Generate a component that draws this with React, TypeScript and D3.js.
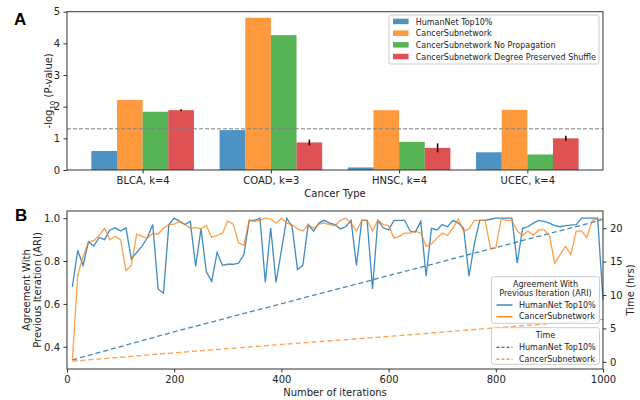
import * as d3 from "d3"
import { useEffect, useRef } from "react"

// Panel A: enrichment of each network per cancer type
const cancerTypes = ["BLCA, k=4", "COAD, k=3", "HNSC, k=4", "UCEC, k=4"]
const barSeries = [
  "HumanNet Top10%",
  "CancerSubnetwork",
  "CancerSubnetwork No Propagation",
  "CancerSubnetwork Degree Preserved Shuffle"
]
const humanNetBars = [0.6, 1.26, 0.08, 0.56]
const subnetworkBars = [2.21, 4.81, 1.89, 1.9]
const noPropagationBars = [1.84, 4.26, 0.89, 0.49]
const shuffleBars = [1.89, 0.87, 0.7, 1.0]
const shuffleErr = [0.03, 0.09, 0.14, 0.08]
const significance = 1.301

// Panel B: ARI between consecutive iterations, and run time
const iterations = d3.range(10, 1001, 10)
const humanNetAri = [
  0.68, 0.85, 0.78, 0.89, 0.87, 0.91, 0.9, 0.945, 0.955, 0.94,
  0.955, 0.81, 0.84, 0.87, 0.91, 0.97, 0.67, 0.65, 0.97, 1.0,
  0.985, 0.97, 0.985, 0.775, 0.95, 0.75, 0.705, 0.84, 0.78, 0.785,
  0.785, 0.79, 0.83, 0.99, 0.99, 1.0, 0.7, 0.955, 0.7, 0.85,
  1.0, 0.96, 0.76, 0.78, 0.97, 0.94, 0.977, 0.99, 0.977, 0.97,
  0.95, 0.96, 0.99, 0.78, 0.99, 0.99, 0.67, 0.99, 0.955, 0.945,
  0.99, 0.99, 0.99, 0.94, 0.935, 0.985, 0.73, 0.953, 0.945, 0.97,
  0.96, 0.99, 0.977, 0.953, 0.73, 0.88, 0.99, 0.99, 0.995, 1.0,
  1.0, 1.0, 1.0, 0.79, 0.953, 0.96, 0.977, 0.99, 0.985, 0.977,
  0.965, 0.96, 0.965, 0.968, 0.97, 1.0, 1.0, 1.0, 1.0, 0.62
]
const subnetworkAri = [
  0.337, 0.735, 0.82, 0.89, 0.895, 0.92, 0.953, 0.9, 0.915, 0.9,
  0.755, 0.78, 0.925, 0.915, 0.907, 0.93, 0.925, 0.953, 0.97, 0.972,
  0.985, 0.972, 0.953, 0.956, 0.95, 0.966, 0.91, 0.92, 0.93, 0.987,
  0.972, 0.885, 0.873, 0.99, 0.985, 0.99, 1.0, 0.996, 0.977, 1.0,
  0.977, 0.97, 0.95, 0.94, 0.97, 0.953, 0.972, 0.977, 0.97, 0.965,
  0.99, 1.0, 0.977, 0.94, 0.99, 0.99, 0.94, 0.99, 0.97, 0.965,
  0.907, 0.915, 0.93, 0.93, 0.94, 0.93, 0.87, 0.88, 0.907, 0.93,
  0.92, 0.953, 0.997, 0.94, 0.95, 0.99, 0.99, 0.99, 0.86, 0.86,
  0.997, 0.99, 0.99, 0.94, 0.92, 0.94, 0.92, 0.945, 0.945, 0.92,
  0.79, 0.83, 0.868, 0.83, 0.94, 0.94, 0.91, 0.99, 0.996, 0.996
]
const timeIterations = [10, 200, 400, 600, 800, 1000]
const humanNetHours = [0.3, 4.5, 8.7, 12.9, 17.1, 21.3]
const subnetworkHours = [0.1, 1.35, 2.6, 3.8, 5.1, 6.35]

const FONT = "DejaVu Sans"
const blue = "#1f77b4"
const orange = "#ff7f0e"
const green = "#2ca02c"
const red = "#d62728"

const App = () => {
  const svgRef = useRef<SVGSVGElement | null>(null)

  useEffect(() => {
    if (!svgRef.current) return
    const svg = d3.select(svgRef.current)
    svg.selectAll("*").remove()
    svg.style("font-family", FONT)

    // ---------- Panel A ----------
    const a = { left: 67, right: 603, top: 11.7, bottom: 170 }
    const xA = d3.scaleLinear().domain([-0.59, 3.59]).range([a.left, a.right])
    const yA = d3.scaleLinear().domain([0, 5]).range([a.bottom, a.top])
    const barWidth = 0.2
    const seriesValues = [humanNetBars, subnetworkBars, noPropagationBars, shuffleBars]
    const seriesColors = [blue, orange, green, red]

    const gA = svg.append("g")

    seriesValues.forEach((vals, j) => {
      gA.selectAll(null)
        .data(vals)
        .enter()
        .append("rect")
        .attr("x", (_d, i) => xA(i + (j - 1.5) * barWidth - barWidth / 2))
        .attr("width", xA(barWidth) - xA(0))
        .attr("y", d => yA(d))
        .attr("height", d => yA(0) - yA(d))
        .attr("fill", seriesColors[j])
        .attr("fill-opacity", 0.8)
    })

    // error bars on the shuffle series
    gA.selectAll(null)
      .data(shuffleBars)
      .enter()
      .append("line")
      .attr("x1", (_d, i) => xA(i + 1.5 * barWidth))
      .attr("x2", (_d, i) => xA(i + 1.5 * barWidth))
      .attr("y1", (d, i) => yA(d - shuffleErr[i]))
      .attr("y2", (d, i) => yA(d + shuffleErr[i]))
      .attr("stroke", "#000")
      .attr("stroke-width", 1.5)

    gA.append("line")
      .attr("x1", a.left)
      .attr("x2", a.right)
      .attr("y1", yA(significance))
      .attr("y2", yA(significance))
      .attr("stroke", "#808080")
      .attr("stroke-width", 1)
      .attr("stroke-dasharray", "4,2")

    const axA = gA.append("g").attr("transform", `translate(${a.left},0)`)
      .call(d3.axisLeft(yA).ticks(5).tickFormat(d3.format("d")).tickSize(3.5).tickPadding(3.5))
    const axAx = gA.append("g").attr("transform", `translate(0,${a.bottom})`)
      .call(
        d3.axisBottom(xA)
          .tickValues([0, 1, 2, 3])
          .tickFormat(d => cancerTypes[d as number])
          .tickSize(3.5)
          .tickPadding(3.5)
      )
    ;[axA, axAx].forEach(ax => {
      ax.select(".domain").remove()
      ax.selectAll("text").style("font-size", "10px").style("font-family", FONT).attr("fill", "#222")
      ax.selectAll("line").attr("stroke", "#333")
    })

    gA.append("rect")
      .attr("x", a.left)
      .attr("y", a.top)
      .attr("width", a.right - a.left)
      .attr("height", a.bottom - a.top)
      .attr("fill", "none")
      .attr("stroke", "#333")
      .attr("stroke-width", 1)

    gA.append("text")
      .attr("x", (a.left + a.right) / 2)
      .attr("y", 197)
      .attr("text-anchor", "middle")
      .style("font-size", "10px")
      .attr("fill", "#222")
      .text("Cancer Type")

    const yLabA = gA.append("text")
      .attr("transform", `translate(52,${(a.top + a.bottom) / 2}) rotate(-90)`)
      .attr("text-anchor", "middle")
      .style("font-size", "10px")
      .attr("fill", "#222")
    yLabA.append("tspan").text("-log")
    yLabA.append("tspan").attr("dy", 2.5).style("font-size", "7px").text("10")
    yLabA.append("tspan").attr("dy", -2.5).text(" (P-value)")

    // legend A
    const legA = gA.append("g").attr("transform", "translate(389,15)")
    legA.append("rect")
      .attr("width", 210)
      .attr("height", 49)
      .attr("rx", 2)
      .attr("fill", "#fff")
      .attr("fill-opacity", 0.8)
      .attr("stroke", "#ccc")
    barSeries.forEach((name, j) => {
      const row = legA.append("g").attr("transform", `translate(0,${6.7 + j * 11.7})`)
      row.append("rect")
        .attr("x", 4)
        .attr("y", -3)
        .attr("width", 15.6)
        .attr("height", 5.5)
        .attr("fill", seriesColors[j])
        .attr("fill-opacity", 0.8)
      row.append("text")
        .attr("x", 26.7)
        .attr("y", 2.9)
        .style("font-size", "8px")
        .attr("fill", "#222")
        .text(name)
    })

    svg.append("text")
      .attr("x", 14)
      .attr("y", 25)
      .style("font-size", "17px")
      .style("font-weight", "bold")
      .style("font-family", "Liberation Sans")
      .text("A")

    // ---------- Panel B ----------
    const b = { left: 67, right: 603, top: 211, bottom: 369 }
    const xB = d3.scaleLinear().domain([0, 1000]).range([b.left, b.right])
    const yB = d3.scaleLinear().domain([0.2965, 1.0335]).range([b.bottom, b.top])
    const yT = d3.scaleLinear().domain([-1.07, 22.57]).range([b.bottom, b.top])

    const gB = svg.append("g")

    const ariLine = (vals: number[]) =>
      d3.line<number>().x((_d, i) => xB(iterations[i])).y(d => yB(d))(vals)
    const timeLine = (vals: number[]) =>
      d3.line<number>().x((_d, i) => xB(timeIterations[i])).y(d => yT(d))(vals)

    gB.append("path")
      .attr("d", timeLine(humanNetHours))
      .attr("fill", "none")
      .attr("stroke", blue)
      .attr("stroke-opacity", 0.85)
      .attr("stroke-width", 1.3)
      .attr("stroke-dasharray", "5,3")
    gB.append("path")
      .attr("d", timeLine(subnetworkHours))
      .attr("fill", "none")
      .attr("stroke", orange)
      .attr("stroke-opacity", 0.75)
      .attr("stroke-width", 1.3)
      .attr("stroke-dasharray", "5,3")

    gB.append("path")
      .attr("d", ariLine(humanNetAri))
      .attr("fill", "none")
      .attr("stroke", blue)
      .attr("stroke-opacity", 0.85)
      .attr("stroke-width", 1.3)
    gB.append("path")
      .attr("d", ariLine(subnetworkAri))
      .attr("fill", "none")
      .attr("stroke", orange)
      .attr("stroke-opacity", 0.75)
      .attr("stroke-width", 1.3)

    const axBl = gB.append("g").attr("transform", `translate(${b.left},0)`)
      .call(d3.axisLeft(yB).tickValues([0.4, 0.6, 0.8, 1.0]).tickFormat(d3.format(".1f")).tickSize(3.5).tickPadding(3.5))
    const axBr = gB.append("g").attr("transform", `translate(${b.right},0)`)
      .call(d3.axisRight(yT).tickValues([0, 5, 10, 15, 20]).tickSize(3.5).tickPadding(3.5))
    const axBx = gB.append("g").attr("transform", `translate(0,${b.bottom})`)
      .call(d3.axisBottom(xB).tickValues([0, 200, 400, 600, 800, 1000]).tickFormat(d3.format("d")).tickSize(3.5).tickPadding(3.5))
    ;[axBl, axBr, axBx].forEach(ax => {
      ax.select(".domain").remove()
      ax.selectAll("text").style("font-size", "10px").style("font-family", FONT).attr("fill", "#222")
      ax.selectAll("line").attr("stroke", "#333")
    })

    gB.append("rect")
      .attr("x", b.left)
      .attr("y", b.top)
      .attr("width", b.right - b.left)
      .attr("height", b.bottom - b.top)
      .attr("fill", "none")
      .attr("stroke", "#333")
      .attr("stroke-width", 1)

    gB.append("text")
      .attr("x", (b.left + b.right) / 2)
      .attr("y", 396)
      .attr("text-anchor", "middle")
      .style("font-size", "10px")
      .attr("fill", "#222")
      .text("Number of iterations")

    const midB = (b.top + b.bottom) / 2
    gB.append("text")
      .attr("transform", `translate(30,${midB}) rotate(-90)`)
      .attr("text-anchor", "middle")
      .style("font-size", "10px")
      .attr("fill", "#222")
      .text("Agreement With")
    gB.append("text")
      .attr("transform", `translate(41,${midB}) rotate(-90)`)
      .attr("text-anchor", "middle")
      .style("font-size", "10px")
      .attr("fill", "#222")
      .text("Previous Iteration (ARI)")
    gB.append("text")
      .attr("transform", `translate(634,${midB}) rotate(-90)`)
      .attr("text-anchor", "middle")
      .style("font-size", "10px")
      .attr("fill", "#222")
      .text("Time (hrs)")

    // legends B
    const lineLegend = (
      x: number,
      y: number,
      w: number,
      h: number,
      title: string[],
      dashed: boolean
    ) => {
      const g = gB.append("g").attr("transform", `translate(${x},${y})`)
      g.append("rect")
        .attr("width", w)
        .attr("height", h)
        .attr("rx", 2)
        .attr("fill", "#fff")
        .attr("fill-opacity", 0.8)
        .attr("stroke", "#ccc")
      title.forEach((t, k) => {
        g.append("text")
          .attr("x", w / 2)
          .attr("y", 10.5 + k * 8.6)
          .attr("text-anchor", "middle")
          .style("font-size", "8px")
          .attr("fill", "#222")
          .text(t)
      })
      const top = 10.5 + (title.length - 1) * 8.6
      ;[
        { name: "HumanNet Top10%", color: blue },
        { name: "CancerSubnetwork", color: orange }
      ].forEach((s, k) => {
        const yy = top + 12 + k * 11.7
        g.append("line")
          .attr("x1", 5)
          .attr("x2", 21)
          .attr("y1", yy - 2.8)
          .attr("y2", yy - 2.8)
          .attr("stroke", s.color)
          .attr("stroke-width", 1.3)
          .attr("stroke-dasharray", dashed ? "3,2" : null)
        g.append("text")
          .attr("x", 27.5)
          .attr("y", yy)
          .style("font-size", "8px")
          .attr("fill", "#222")
          .text(s.name)
      })
    }
    lineLegend(491.5, 276.7, 108, 46.6, ["Agreement With", "Previous Iteration (ARI)"], false)
    lineLegend(491.5, 327.7, 108, 36.6, ["Time"], true)

    svg.append("text")
      .attr("x", 15)
      .attr("y", 221)
      .style("font-size", "17px")
      .style("font-weight", "bold")
      .style("font-family", "Liberation Sans")
      .text("B")
  }, [])

  return (
    <svg
      ref={svgRef}
      width={640}
      height={400}
      style={{ position: "absolute", left: 0, top: 0, background: "#fff" }}
    />
  )
}

export default App
